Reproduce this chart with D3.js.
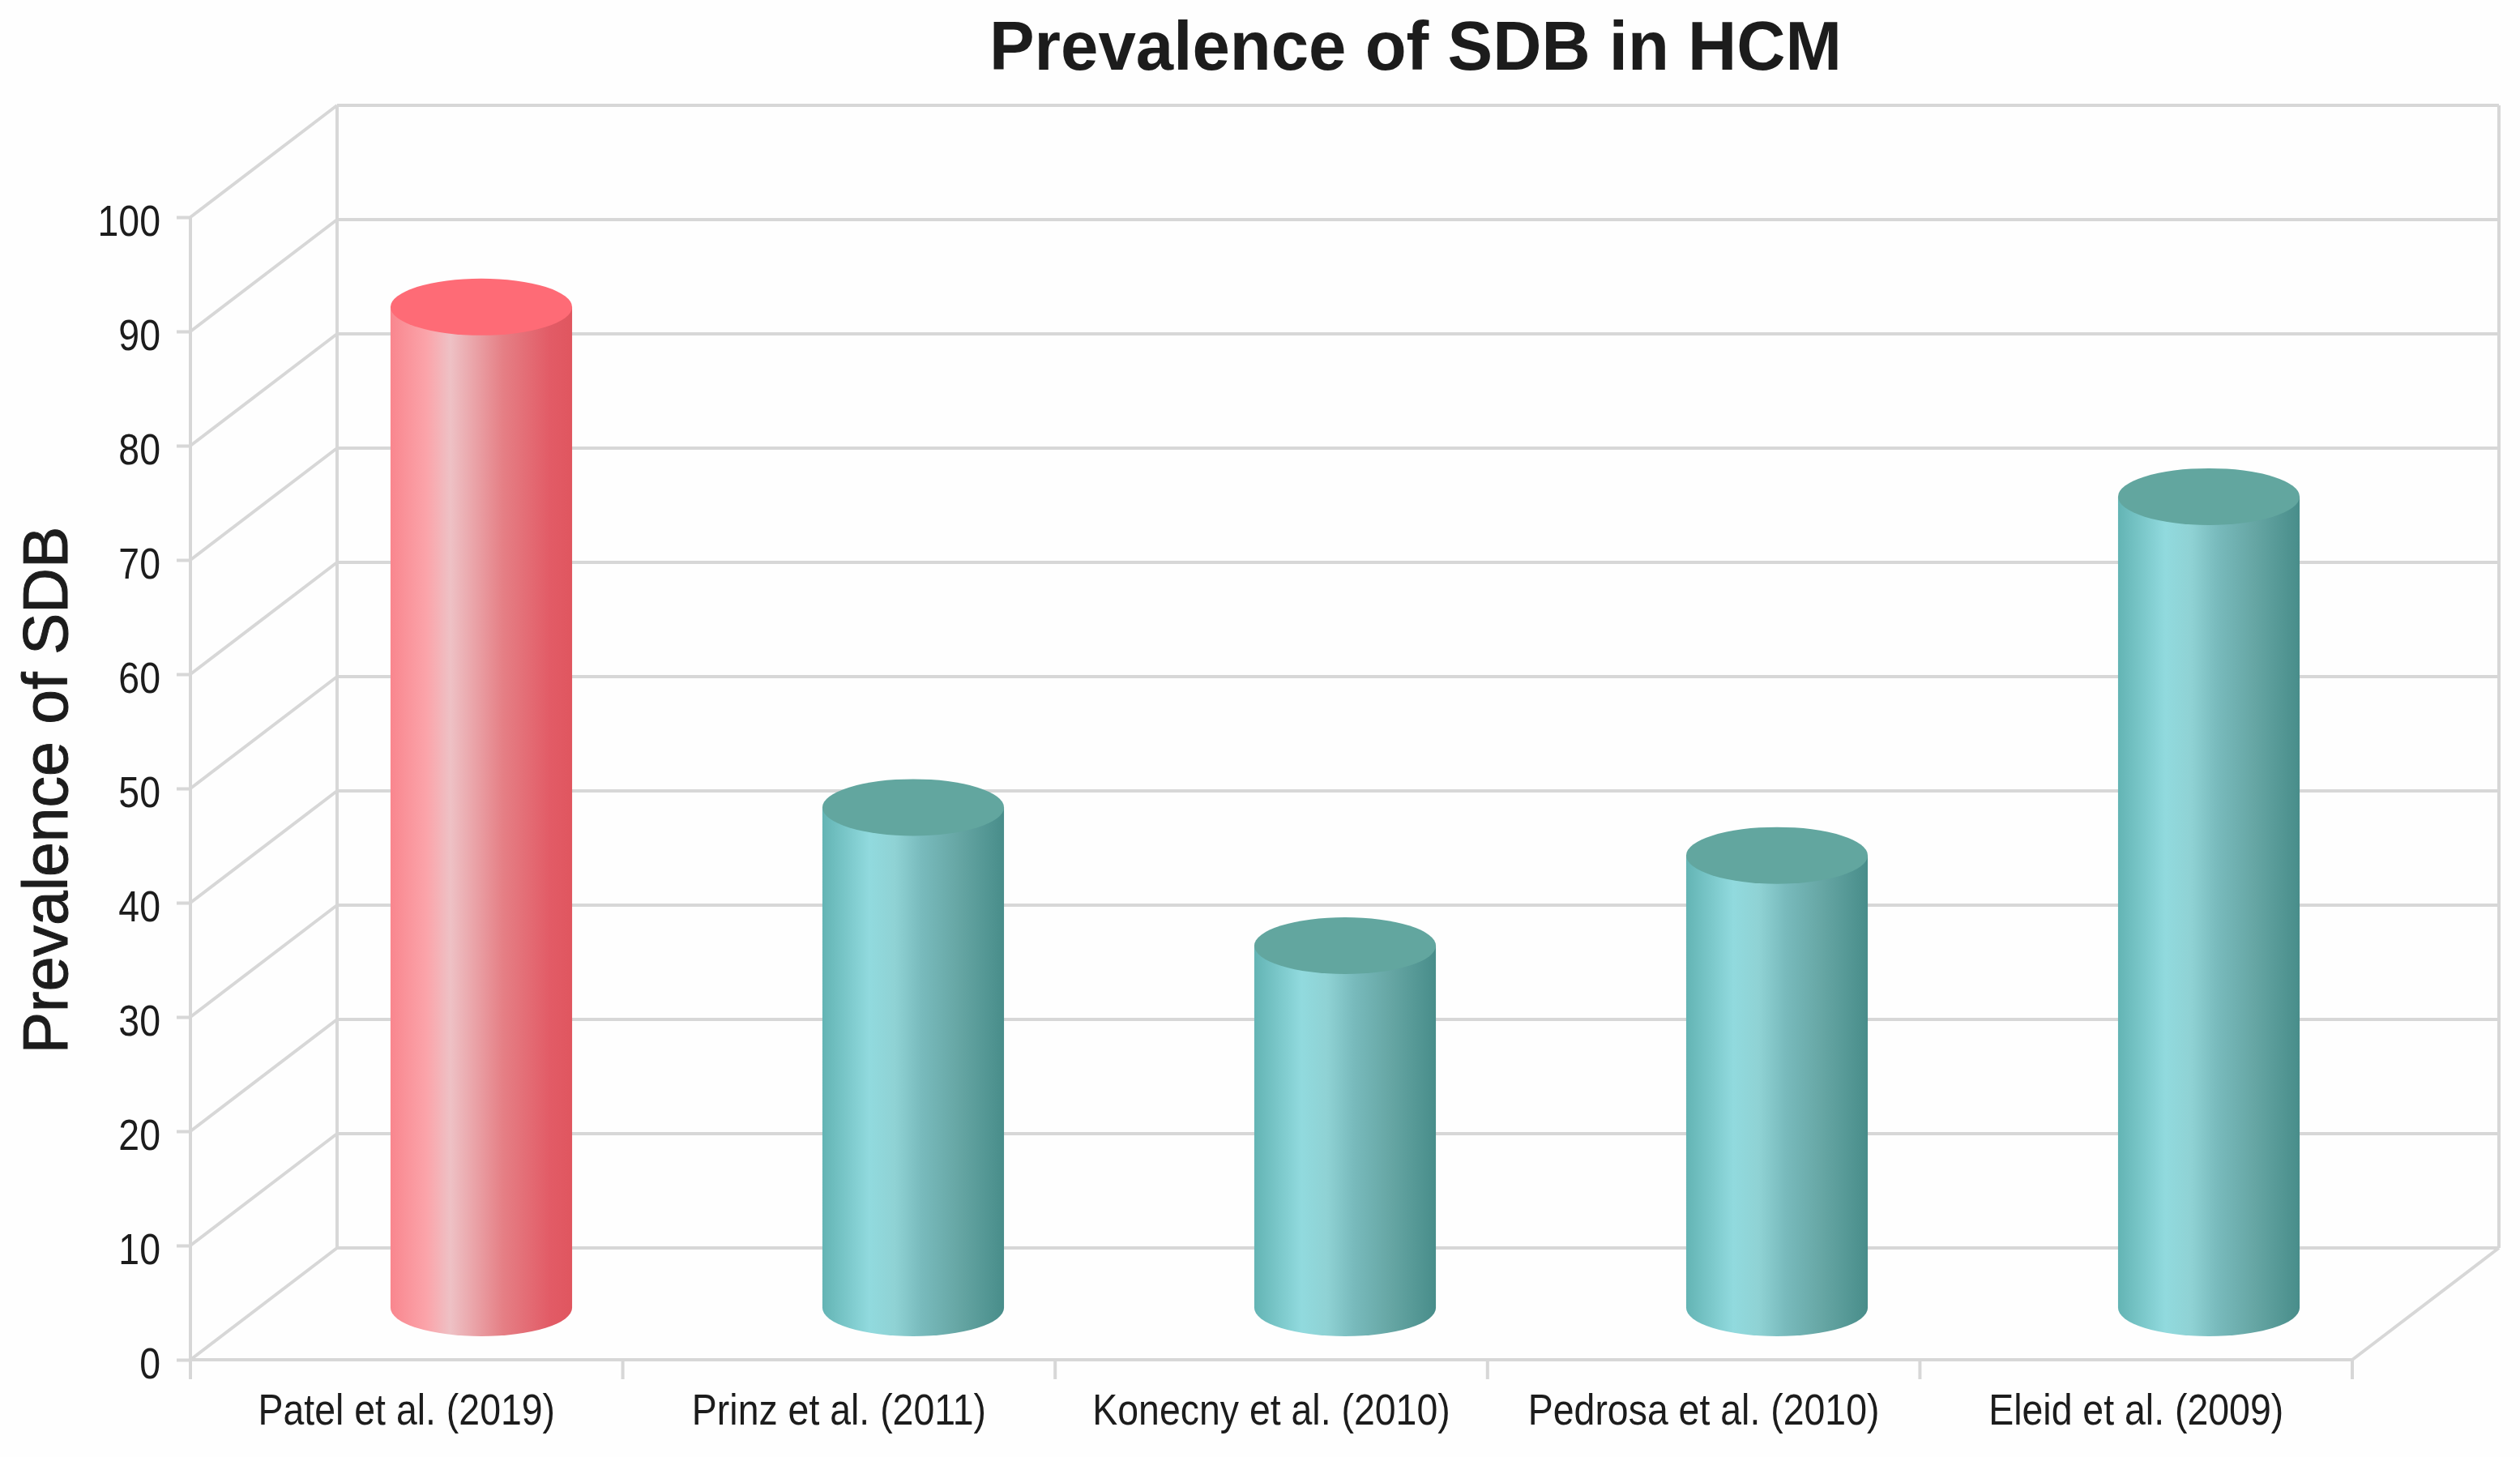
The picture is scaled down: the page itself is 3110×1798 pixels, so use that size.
<!DOCTYPE html>
<html>
<head>
<meta charset="utf-8">
<script src="https://cdn.jsdelivr.net/npm/d3@7"></script>
<style>
body{margin:0;background:#fefefe;}
svg{display:block;}
text{fill:#1c1c1c;}
</style>
</head>
<body>
<script>
var categories=["Patel et al. (2019)","Prinz et al. (2011)","Konecny et al. (2010)","Pedrosa et al. (2010)","Eleid et al. (2009)"];
var prevalence=[87.6,43.8,31.7,39.6,71];
var barTone=["red","teal","teal","teal","teal"];
var yTicks=[0,10,20,30,40,50,60,70,80,90,100];

var width=3110,height=1798;
var gridColor="#d7d7d7";
var depth={x:181,y:-138};

var svg=d3.select("body").append("svg")
          .attr("width",width)
          .attr("height",height);

// scales for the front plane, the back wall is the same thing shifted by depth
var xScale=d3.scaleBand().domain(categories).range([235,2903]).padding(0);
var yScale=d3.scaleLinear().domain([0,100]).range([1678,268]);
// the cylinders sit a bit tighter than the axis bands
var barScale=d3.scalePoint().domain(categories).range([594,2726]);

var tones={
  red:{top:"#fe6b76",stops:[[0,"#f9868e"],[0.2,"#fba4aa"],[0.33,"#eec1c5"],[0.62,"#e57f85"],[0.88,"#e25b66"],[1,"#e0565f"]]},
  teal:{top:"#62a69f",stops:[[0,"#63b4b4"],[0.26,"#91dade"],[0.4,"#8fd2d4"],[0.55,"#78babc"],[0.75,"#66a6a4"],[1,"#488d8a"]]}
};
var defs=svg.append("defs");
Object.keys(tones).forEach(function(k){
  defs.append("linearGradient").attr("id","grad-"+k)
      .selectAll("stop")
      .data(tones[k].stops)
      .enter()
      .append("stop")
      .attr("offset",function(d){return d[0];})
      .attr("stop-color",function(d){return d[1];});
});

//grid
var grid=svg.append("g").attr("fill","none").attr("stroke",gridColor).attr("stroke-width",4);
grid.selectAll("line.back")
    .data(yTicks)
    .enter().append("line").classed("back",true)
    .attr("x1",xScale.range()[0]+depth.x)
    .attr("x2",xScale.range()[1]+depth.x)
    .attr("y1",function(d){return yScale(d)+depth.y;})
    .attr("y2",function(d){return yScale(d)+depth.y;});
grid.selectAll("line.side")
    .data(yTicks)
    .enter().append("line").classed("side",true)
    .attr("x1",xScale.range()[0])
    .attr("x2",xScale.range()[0]+depth.x)
    .attr("y1",function(d){return yScale(d);})
    .attr("y2",function(d){return yScale(d)+depth.y;});
// back wall verticals and the right floor edge
[xScale.range()[0]+depth.x,xScale.range()[1]+depth.x].forEach(function(x){
  grid.append("line").attr("x1",x).attr("x2",x)
      .attr("y1",yScale(100)+depth.y).attr("y2",yScale(0)+depth.y);
});
grid.append("line")
    .attr("x1",xScale.range()[1]).attr("y1",yScale(0))
    .attr("x2",xScale.range()[1]+depth.x).attr("y2",yScale(0)+depth.y);

//cylinders stand about half way into the floor
var rx=xScale.bandwidth()*0.21,ry=35;
var bars=svg.selectAll("g.bar")
            .data(categories)
            .enter()
            .append("g")
            .classed("bar",true)
            .attr("transform",function(d){
              return "translate("+barScale(d)+","+(depth.y/2+5)+")";
            });
bars.append("path")
    .attr("fill",function(d,i){return "url(#grad-"+barTone[i]+")";})
    .attr("d",function(d,i){
      var top=yScale(prevalence[i]),bot=yScale(0);
      return "M"+(-rx)+","+top+"L"+(-rx)+","+bot+
             "A"+rx+","+ry+" 0 0 0 "+rx+","+bot+
             "L"+rx+","+top+"Z";
    });
bars.append("ellipse")
    .attr("rx",rx)
    .attr("ry",ry)
    .attr("cy",function(d,i){return yScale(prevalence[i]);})
    .attr("fill",function(d,i){return tones[barTone[i]].top;});

//axes
var labelFont="'Liberation Sans',sans-serif";
var squeeze=0.86;
var yAxis=d3.axisLeft(yScale).tickValues(yTicks).tickSize(17).tickPadding(20).tickFormat(d3.format("d"));
var xAxis=d3.axisBottom(xScale).tickSize(24).tickPadding(18);

var yG=svg.append("g").attr("transform","translate(235,0)").call(yAxis);
var xG=svg.append("g").attr("transform","translate(0,1678)").call(xAxis);
[yG,xG].forEach(function(g){
  g.select(".domain").attr("stroke",gridColor).attr("stroke-width",4);
  g.selectAll(".tick line").attr("stroke",gridColor).attr("stroke-width",4);
  g.selectAll("text").attr("font-family",labelFont).attr("font-size",54).attr("fill","#1c1c1c");
});
// band axis puts ticks on centers, the chart has them on the band edges
xG.selectAll(".tick line").attr("x1",xScale.bandwidth()/2).attr("x2",xScale.bandwidth()/2);
xG.select(".domain").attr("d","M235,0H2903M235,0V24");
yG.select(".domain").attr("d","M0,"+yScale(100)+"V"+(yScale(0)+24));
// no narrow face installed, so squeeze the labels sideways
yG.selectAll("text").attr("dy","0.42em").attr("x",-37/squeeze).attr("transform","scale("+squeeze+",1)");
xG.selectAll("text").attr("transform","scale("+squeeze+",1)");

//titles
svg.append("text")
   .attr("transform","translate(1747,86) scale(0.97,1)")
   .attr("text-anchor","middle")
   .attr("font-family",labelFont)
   .attr("font-weight","bold")
   .attr("font-size",86)
   .text("Prevalence of SDB in HCM");
svg.append("text")
   .attr("transform","translate(83,975) rotate(-90)")
   .attr("text-anchor","middle")
   .attr("font-family",labelFont)
   .attr("font-size",77)
   .attr("stroke","#1c1c1c")
   .attr("stroke-width",1)
   .text("Prevalence of SDB");
</script>
</body>
</html>
